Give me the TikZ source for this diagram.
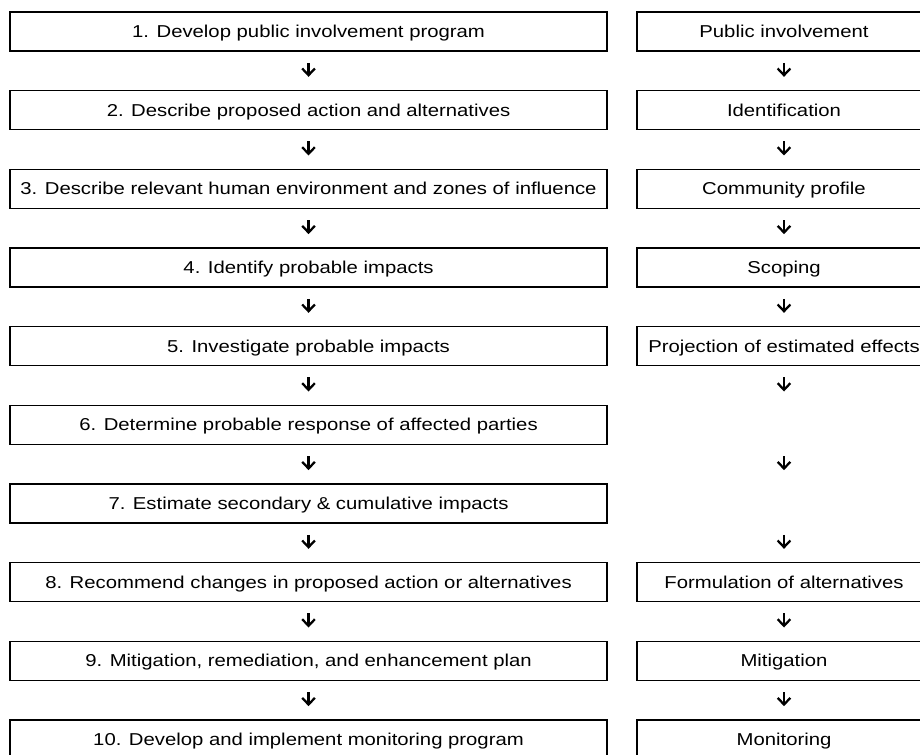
\documentclass[tikz,border=0pt]{standalone}
\usepackage{fontspec}
\setmainfont{Liberation Sans}[FakeStretch=1.18]
\usetikzlibrary{arrows.meta}
\tikzset{
    stepleft/.style={draw, line width=1.1pt, minimum width=447.75pt,
        minimum height=29.25pt, inner sep=0pt, text height=9.2pt,
        text depth=0pt, font=\fontsize{12.9}{14}\selectfont},
    stepright/.style={stepleft, minimum width=220.5pt},
    ghost/.style={stepright, draw=none},
    flow/.style={-{Straight Barb[length=5pt, width=9.5pt, line width=1.7pt]},
        line width=1.7pt, shorten <=8.3pt, shorten >=9.8pt},
}

\begin{document}
\begin{tikzpicture}
            \useasboundingbox (0, 0) rectangle (690pt, -566.25pt);
            \clip (0, 0) rectangle (690pt, -566.25pt);
            % assessment steps
            \foreach \i/\txt in {1/{1. Develop public involvement program},
                2/{2. Describe proposed action and alternatives},
                3/{3. Describe relevant human environment and zones of influence},
                4/{4. Identify probable impacts},
                5/{5. Investigate probable impacts},
                6/{6. Determine probable response of affected parties},
                7/{7. Estimate secondary \& cumulative impacts},
                8/{8. Recommend changes in proposed action or alternatives},
                9/{9. Mitigation, remediation, and enhancement plan},
                10/{10. Develop and implement monitoring program}}
                \node[stepleft] (l\i) at (231.4pt, {-(23.6+59*(\i-1))*1pt})
                    {\txt};
            % matching stages
            \foreach \i/\txt in {1/{Public involvement}, 2/{Identification},
                3/{Community profile}, 4/{Scoping},
                5/{Projection of estimated effects},
                8/{Formulation of alternatives}, 9/{Mitigation},
                10/{Monitoring}}
                \node[stepright] (r\i) at (588pt, {-(23.6+59*(\i-1))*1pt})
                    {\txt};
            \node[ghost] (r6) at (588pt, {-(23.6+59*5)*1pt}) {};
            \node[ghost] (r7) at (588pt, {-(23.6+59*6)*1pt}) {};
            \foreach \i [evaluate=\i as \j using int(\i+1)] in {1,...,9} {
                \draw[flow] (l\i) -- (l\j);
                \draw[flow] (r\i) -- (r\j);
            }
        \end{tikzpicture}
\end{document}
